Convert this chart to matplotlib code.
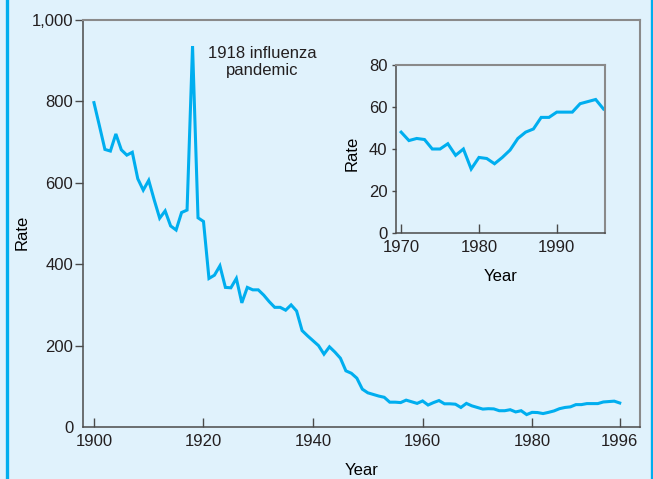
import matplotlib
matplotlib.use("Agg")
import matplotlib.pyplot as plt
from matplotlib.lines import Line2D
from matplotlib.ticker import FuncFormatter

# Infectious disease death rate, 1900-1996
years = list(range(1900, 1997))
rates = [
    797, 740, 682, 678, 720, 681, 668, 675, 610, 582,   # 1900s
    606, 558, 513, 531, 494, 484, 527, 533, 936, 514,   # 1910s
    505, 365, 373, 396, 343, 342, 365, 305, 343, 337,   # 1920s
    337, 324, 308, 294, 294, 287, 300, 285, 237, 224,   # 1930s
    212, 200, 179, 197, 184, 169, 138, 132, 120, 93,    # 1940s
    84, 80, 76, 73, 61, 61, 60, 66, 62, 58,             # 1950s
    64, 54, 60, 65, 57, 57, 56, 48, 58, 52,             # 1960s
    48, 44, 45, 44.5, 40, 40, 42.5, 37, 40, 30.5,       # 1970s
    36, 35.5, 33, 36, 39.5, 45, 48, 49.5, 55, 55,       # 1980s
    57.5, 57.5, 57.5, 61.5, 62.5, 63.5, 59,             # 1990-1996
]

inset_years = years[70:]
inset_rates = rates[70:]

main_xticks = [1900, 1920, 1940, 1960, 1980, 1996]
main_yticks = [0, 200, 400, 600, 800, 1000]
inset_xticks = [1970, 1980, 1990]
inset_yticks = [0, 20, 40, 60, 80]

BG = '#e0f2fc'
LINE = '#00aeef'
TEXT = '#231f20'
DARK = '#4a4a4a'
GRAY = '#8a8a8a'

plt.rcParams['font.family'] = ['Liberation Sans', 'DejaVu Sans']
plt.rcParams['font.size'] = 12
plt.rcParams['text.color'] = TEXT

fig = plt.figure(figsize=(6.53, 4.79), dpi=100, facecolor=BG)

# cyan side rules of the panel
for xf in (6.5 / 653, 651.5 / 653):
    fig.add_artist(Line2D([xf, xf], [0, 1], transform=fig.transFigure,
                          color=LINE, lw=2.4))


def style_axes(ax):
    ax.set_facecolor(BG)
    for side in ('left', 'bottom'):
        ax.spines[side].set_color(DARK)
        ax.spines[side].set_linewidth(1.1)
    for side in ('top', 'right'):
        ax.spines[side].set_color(GRAY)
        ax.spines[side].set_linewidth(1.5)
    ax.tick_params(axis='x', direction='in', length=6.5, width=1.0,
                   color=DARK, labelcolor=TEXT, labelsize=12, pad=5)


# Main chart
ax = fig.add_axes([83 / 653, 1 - 427 / 479, 557 / 653, 407 / 479])
style_axes(ax)
ax.plot(years, rates, color=LINE, lw=2.2, solid_joinstyle='miter')
ax.set_xlim(1898.0, 1999.7)
ax.set_ylim(0, 1000)
ax.set_xticks(main_xticks)
ax.set_yticks(main_yticks)
ax.yaxis.set_major_formatter(FuncFormatter(lambda v, p: f'{int(v):,}'))
ax.tick_params(axis='y', direction='out', length=6, width=1.0,
               color=DARK, labelcolor=TEXT, labelsize=12, pad=1)
ax.yaxis.get_major_ticks()[0].tick1line.set_visible(False)
ax.set_xlabel('Year', fontsize=12, labelpad=10)
ax.set_ylabel('Rate', fontsize=12)
ax.yaxis.set_label_coords(-0.096, 0.479)
ax.text(1930.7, 897, '1918 influenza\npandemic', ha='center', va='center',
        fontsize=12, linespacing=1.15)

# Inset: 1970-1996
axi = fig.add_axes([395.7 / 653, 1 - 233.3 / 479, 209.3 / 653, 168.6 / 479])
style_axes(axi)
axi.plot(inset_years, inset_rates, color=LINE, lw=2.2, solid_joinstyle='miter')
axi.set_xlim(1969.3, 1996.2)
axi.set_ylim(0, 80)
axi.set_xticks(inset_xticks)
axi.set_yticks(inset_yticks)
axi.tick_params(axis='y', direction='out', length=3, width=1.0,
                color=DARK, labelcolor=TEXT, labelsize=12, pad=3)
axi.set_xlabel('Year', fontsize=12, labelpad=10)
axi.set_ylabel('Rate', fontsize=12)
axi.yaxis.set_label_coords(-0.172, 0.476)

fig.savefig('out.png', dpi=100, facecolor=BG)
